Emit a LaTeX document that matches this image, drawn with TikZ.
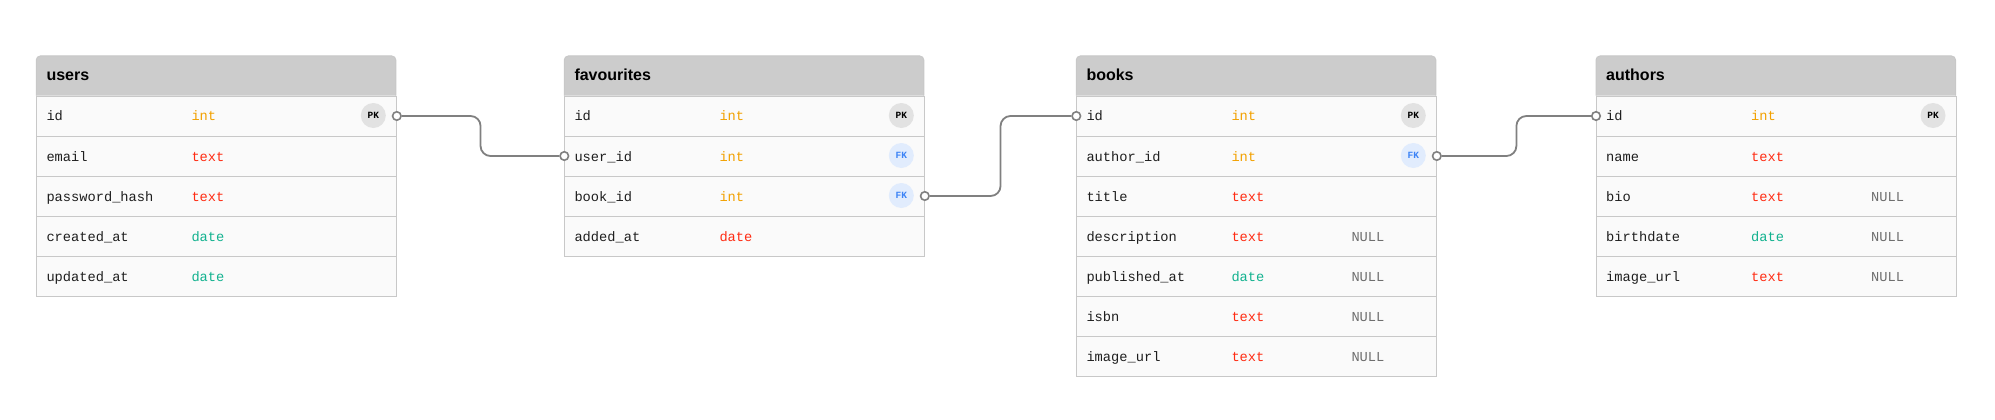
\documentclass[tikz,border=0pt]{standalone}
\usepackage{fontspec}
\setmainfont{Liberation Sans}
\newfontfamily\ermono{Liberation Mono}
\usetikzlibrary{calc}
\definecolor{hdrgray}{HTML}{CCCCCC}
\definecolor{rowbg}{HTML}{FAFAFA}
\definecolor{bordgray}{HTML}{C8C8C8}
\definecolor{nametxt}{HTML}{1E1E1E}
\definecolor{tint}{HTML}{F2A100}
\definecolor{ttext}{HTML}{FF2B12}
\definecolor{tdate}{HTML}{12B28F}
\definecolor{nullgray}{HTML}{6E6E6E}
\definecolor{pkfill}{HTML}{E2E2E2}
\definecolor{fkfill}{HTML}{E1ECFD}
\definecolor{fktxt}{HTML}{3C83F6}
\definecolor{conngray}{HTML}{808080}
\tikzset{
  hdrshape/.style={fill=hdrgray, draw=bordgray, line width=1pt, rounded corners=4pt},
  hdrtext/.style={anchor=base west, inner sep=0pt, font=\bfseries\fontsize{16}{18}\selectfont, text=black},
  rowbox/.style={rectangle, draw=bordgray, fill=rowbg, line width=1pt, minimum width=359.5pt, minimum height=40pt, anchor=north west, inner sep=0pt},
  fieldtxt/.style={anchor=base west, inner sep=0pt, font=\ermono\fontsize{13.7}{16}\selectfont, text=nametxt},
  nulltxt/.style={fieldtxt, text=nullgray},
  badge/.style={circle, minimum size=25pt, inner sep=0pt, font=\ermono\bfseries\fontsize{9.5}{10}\selectfont},
  pkbadge/.style={badge, fill=pkfill, text=black},
  fkbadge/.style={badge, fill=fkfill, text=fktxt},
  endc/.style={circle, draw=conngray, fill=white, line width=1.6pt, minimum size=8.5pt, inner sep=0pt},
  conn/.style={draw=conngray, line width=1.8pt, rounded corners=10pt},
}
% #1 name, #2 x, #3 title
\newcommand\ertable[3]{%
  \path[hdrshape] (#2,95.5) -- (#2,56) -- (#2+359.5,56) -- (#2+359.5,95.5);
  \node[hdrtext] (#1) at (#2+10,80.7) {#3};
}
% #1 name, #2 x, #3 row top, #4 field, #5 type colour, #6 type
\newcommand\errow[6]{%
  \node[rowbox] (#1) at (#2,#3) {};
  \node[fieldtxt] (#1-f) at (#2+10,#3+25.5) {#4};
  \node[fieldtxt, text=#5] (#1-t) at (#2+155,#3+25.5) {#6};
}
\newcommand\ernull[3]{\node[nulltxt] (#1-n) at (#2+275,#3+25.5) {NULL};}
\newcommand\erpk[3]{\node[pkbadge] (#1-k) at (#2+337,#3+20) {PK};}
\newcommand\erfk[3]{\node[fkbadge] (#1-k) at (#2+337,#3+20) {FK};}
\begin{document}
\begin{tikzpicture}[x=1pt, y=-1pt]
\useasboundingbox (0,0) rectangle (1995,420);
\fill[white] (0,0) rectangle (1995,420);

% users
\ertable{users}{36.3}{users}
\errow{users-id}{36.3}{95.5}{id}{tint}{int}
\erpk{users-id}{36.3}{95.5}
\errow{users-email}{36.3}{135.5}{email}{ttext}{text}
\errow{users-pw}{36.3}{175.5}{password\_hash}{ttext}{text}
\errow{users-created}{36.3}{215.5}{created\_at}{tdate}{date}
\errow{users-updated}{36.3}{255.5}{updated\_at}{tdate}{date}

% favourites
\ertable{fav}{564.3}{favourites}
\errow{fav-id}{564.3}{95.5}{id}{tint}{int}
\erpk{fav-id}{564.3}{95.5}
\errow{fav-user}{564.3}{135.5}{user\_id}{tint}{int}
\erfk{fav-user}{564.3}{135.5}
\errow{fav-book}{564.3}{175.5}{book\_id}{tint}{int}
\erfk{fav-book}{564.3}{175.5}
\errow{fav-added}{564.3}{215.5}{added\_at}{ttext}{date}

% books
\ertable{books}{1076.3}{books}
\errow{books-id}{1076.3}{95.5}{id}{tint}{int}
\erpk{books-id}{1076.3}{95.5}
\errow{books-author}{1076.3}{135.5}{author\_id}{tint}{int}
\erfk{books-author}{1076.3}{135.5}
\errow{books-title}{1076.3}{175.5}{title}{ttext}{text}
\errow{books-desc}{1076.3}{215.5}{description}{ttext}{text}
\ernull{books-desc}{1076.3}{215.5}
\errow{books-pub}{1076.3}{255.5}{published\_at}{tdate}{date}
\ernull{books-pub}{1076.3}{255.5}
\errow{books-isbn}{1076.3}{295.5}{isbn}{ttext}{text}
\ernull{books-isbn}{1076.3}{295.5}
\errow{books-img}{1076.3}{335.5}{image\_url}{ttext}{text}
\ernull{books-img}{1076.3}{335.5}

% authors
\ertable{authors}{1596}{authors}
\errow{authors-id}{1596}{95.5}{id}{tint}{int}
\erpk{authors-id}{1596}{95.5}
\errow{authors-name}{1596}{135.5}{name}{ttext}{text}
\errow{authors-bio}{1596}{175.5}{bio}{ttext}{text}
\ernull{authors-bio}{1596}{175.5}
\errow{authors-birth}{1596}{215.5}{birthdate}{tdate}{date}
\ernull{authors-birth}{1596}{215.5}
\errow{authors-img}{1596}{255.5}{image\_url}{ttext}{text}
\ernull{authors-img}{1596}{255.5}

% connector end circles
\node[endc] (c1a) at (users-id.east) {};
\node[endc] (c1b) at (fav-user.west) {};
\node[endc] (c2a) at (fav-book.east) {};
\node[endc] (c2b) at (books-id.west) {};
\node[endc] (c3a) at (books-author.east) {};
\node[endc] (c3b) at (authors-id.west) {};

% connectors
\coordinate (m1) at ($(c1a.east)!0.5!(c1b.west)$);
\coordinate (m2) at ($(c2a.east)!0.5!(c2b.west)$);
\coordinate (m3) at ($(c3a.east)!0.5!(c3b.west)$);
\draw[conn] (c1a.east) -- (m1 |- c1a.east) -- (m1 |- c1b.west) -- (c1b.west);
\draw[conn] (c2a.east) -- (m2 |- c2a.east) -- (m2 |- c2b.west) -- (c2b.west);
\draw[conn] (c3a.east) -- (m3 |- c3a.east) -- (m3 |- c3b.west) -- (c3b.west);
\end{tikzpicture}
\end{document}
